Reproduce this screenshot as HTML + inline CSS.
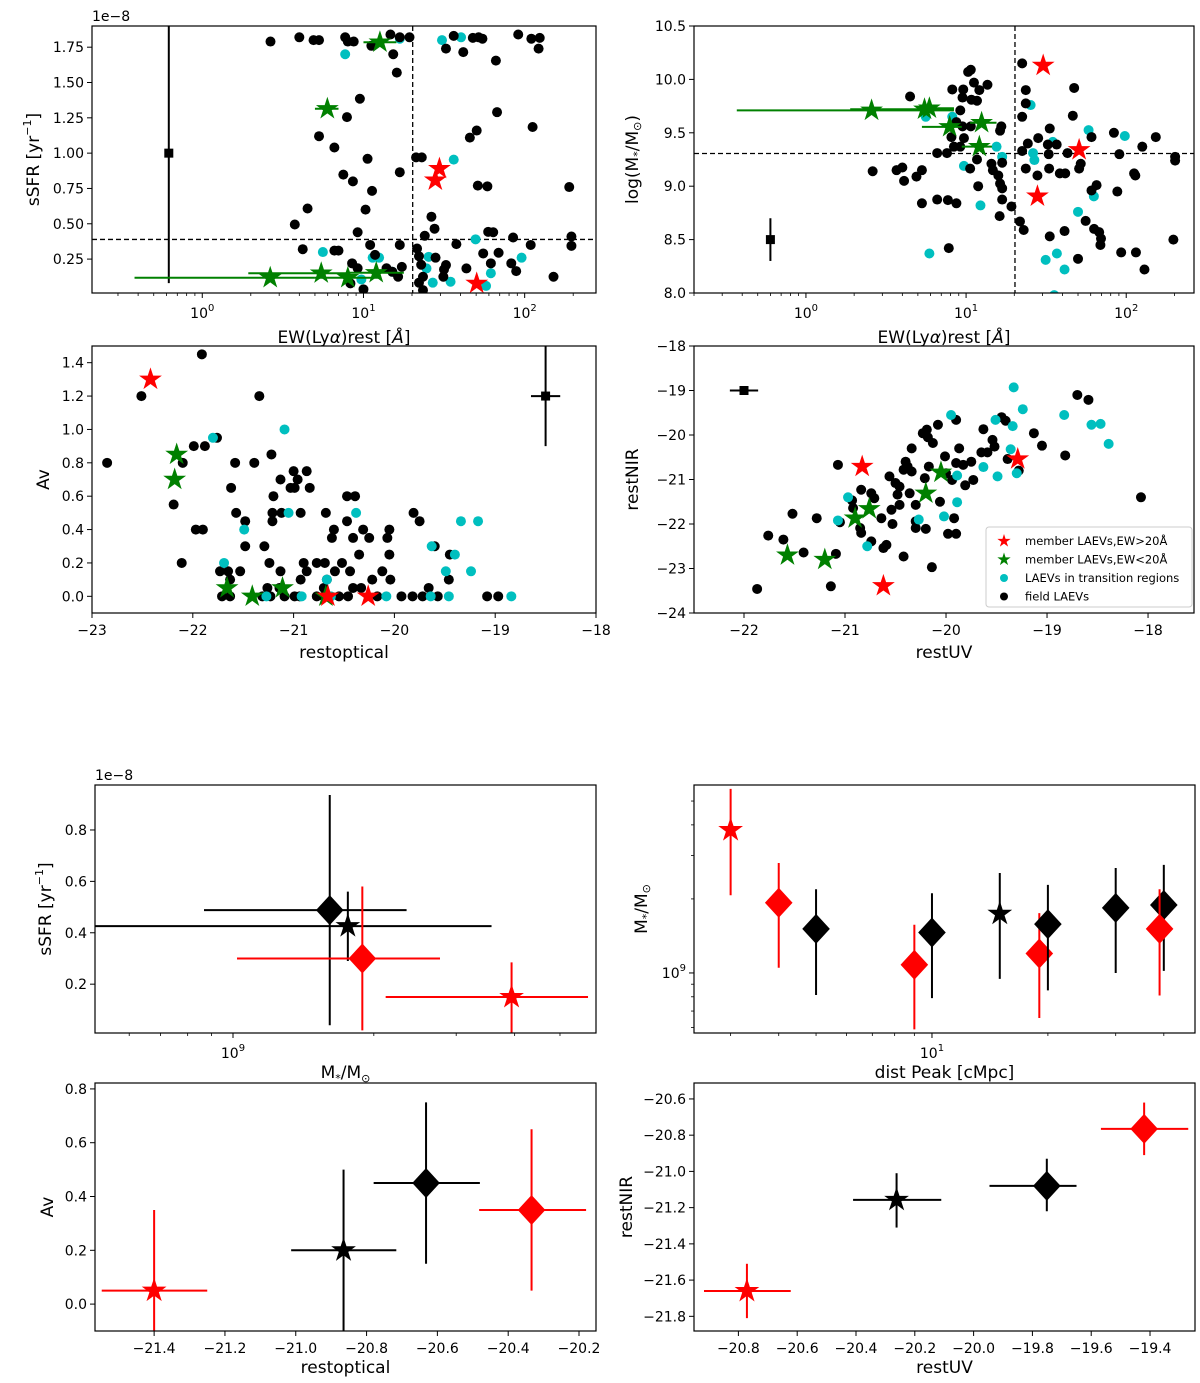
<!DOCTYPE html>
<html><head><meta charset="utf-8"><style>
html,body{margin:0;padding:0;background:#fff;}
svg{display:block;font-family:"DejaVu Sans","Liberation Sans",sans-serif;}
</style></head><body>
<svg id="chart" width="1200" height="1383" viewBox="0 0 1200 1383" xmlns="http://www.w3.org/2000/svg"></svg>
<script>
// ---------- DATA ----------
const p1Black=[[2.65,1.79],[4.0,1.82],[4.9,1.80],[5.3,1.80],[7.7,1.82],[8.0,1.79],[8.7,1.79],[11.2,1.76],[14.7,1.84],[15.3,1.70],[19.3,1.82],[16.8,1.82],[16.1,1.57],[9.5,1.385],[7.9,1.255],[5.3,1.12],[6.6,1.04],[10.6,0.96],[16.8,0.865],[7.5,0.848],[8.6,0.80],[11.3,0.733],[4.5,0.608],[10.3,0.60],[3.75,0.495],[9.2,0.44],[4.2,0.32],[6.6,0.31],[7.0,0.31],[11.0,0.35],[16.8,0.35],[8.5,0.22],[11.8,0.28],[9.2,0.185],[13.9,0.185],[17.3,0.195],[16.4,0.125],[10,0.036],[8.3,0.078],[15.1,0.16],[32.5,1.74],[36.3,1.83],[41.6,1.715],[47.7,1.816],[51.8,1.82],[54.7,1.81],[66.3,1.655],[91.2,1.84],[110,1.81],[124,1.816],[122,1.74],[67.4,1.29],[50.4,1.16],[45.7,1.11],[112,1.185],[21.2,0.97],[23.0,0.97],[51.2,0.77],[58.7,0.765],[189,0.76],[26.4,0.55],[27.6,0.465],[24.0,0.415],[59.4,0.443],[63.8,0.44],[84.8,0.403],[195,0.41],[195,0.344],[109,0.35],[37.7,0.356],[21.5,0.325],[22.1,0.27],[28.0,0.26],[22.8,0.21],[32.5,0.208],[31.6,0.177],[43.5,0.184],[55.3,0.29],[68.9,0.295],[61.7,0.22],[82.6,0.22],[88.6,0.165],[151,0.125],[31.3,0.125],[23.4,0.125],[22.1,0.083],[23.4,0.03]];
const p1Cyan=[[7.7,1.70],[16.8,1.81],[30.7,1.80],[40.3,1.82],[36.3,0.954],[5.6,0.30],[11.4,0.26],[12.5,0.26],[25.4,0.266],[24.6,0.184],[26.9,0.083],[34.7,0.09],[49.6,0.39],[95.7,0.26],[61.7,0.15],[57.6,0.06],[15.1,0.16],[9.7,0.106]];
const p1Green=[[12.65,1.785],[5.97,1.314],[2.64,0.118],[5.47,0.15],[8.0,0.118],[12.0,0.153]];
const p1GreenErr=[[10,16],[5.0,7.0],[0.38,5.0],[1.93,7.8],[5.0,12.8],[7.8,17.8]];
const p1Red=[[29.6,0.89],[27.9,0.808],[50.4,0.078]];
const p1Ref=[0.62,1.0,0.08,1.95];
const p1Cuts=[20.2,0.389];

const p2Black=[[2.61,9.14],[3.68,9.15],[4.0,9.175],[4.1,9.05],[4.47,9.84],[4.9,9.09],[5.3,9.15],[5.3,8.84],[6.6,9.31],[6.6,8.875],[7.6,9.31],[7.7,8.87],[8.7,8.84],[7.8,8.42],[8.2,9.906],[9.6,9.906],[9.5,9.83],[9.2,9.71],[8.7,9.6],[10.3,10.07],[10.7,10.09],[11.2,9.97],[10.8,9.81],[11.7,9.80],[12.1,9.90],[13.6,9.95],[8.1,9.46],[9.5,9.56],[9.7,9.45],[8.4,9.37],[9.2,9.37],[10.7,9.56],[10.6,9.165],[11.7,9.25],[11.9,9.0],[14.4,9.21],[14.7,9.15],[15.9,9.10],[16.8,9.22],[16.3,9.025],[16.8,8.98],[16.8,8.875],[16.2,8.72],[19.2,8.81],[16.3,9.52],[16.6,9.56],[22.4,10.15],[23.6,9.9],[23.6,9.775],[22.4,9.65],[22.4,9.33],[23.6,9.165],[24.3,9.4],[21.7,8.67],[22.9,8.59],[27.9,9.10],[28.2,9.45],[33.3,9.54],[32.4,9.39],[32.8,9.30],[36.8,9.39],[33.0,9.165],[38.5,9.12],[41.6,9.12],[33.3,8.53],[41.2,8.58],[43.0,9.31],[47.3,9.92],[46.4,9.66],[50.8,9.165],[52,9.21],[50,8.32],[55.8,8.675],[60.7,9.46],[60.7,8.96],[65.3,9.01],[63,8.60],[67.8,8.57],[69.6,8.51],[69,8.45],[83.8,9.50],[90.6,9.30],[88,8.95],[93,8.38],[112,9.12],[114,9.10],[126,9.37],[115,8.38],[130,8.22],[153,9.46],[202,9.275],[202,9.24],[197,8.5]];
const p2Cyan=[[25.3,9.76],[8.2,9.65],[5.6,9.65],[5.9,8.37],[9.7,9.19],[12.3,8.82],[15.5,9.37],[16.8,9.275],[26.2,9.31],[26.7,9.245],[34.8,9.415],[31.4,8.31],[36.9,8.37],[41.2,8.22],[50,8.76],[58.2,9.525],[62.8,8.905],[98,9.47],[35.5,7.98]];
const p2Green=[[2.57,9.71],[5.5,9.72],[5.9,9.73],[7.9,9.556],[12.5,9.594],[12.1,9.37]];
const p2GreenErr=[[0.37,8.4],[1.89,8.4],[5.0,8.4],[5.3,9.4],[10.6,15.5],[9.4,14.5]];
const p2Red=[[30.3,10.13],[50.8,9.34],[27.9,8.906]];
const p2Ref=[0.6,8.5,8.3,8.7];
const p2Cuts=[20.2,9.306];

const p3Black=[[-22.85,0.8],[-22.51,1.2],[-21.91,1.45],[-22.1,0.8],[-22.19,0.55],[-22.11,0.2],[-21.99,0.9],[-21.88,0.9],[-21.97,0.4],[-21.9,0.4],[-21.76,0.95],[-21.34,1.2],[-21.58,0.8],[-21.39,0.8],[-21.62,0.65],[-21.57,0.5],[-21.48,0.45],[-21.48,0.3],[-21.53,0.15],[-21.73,0.15],[-21.65,0.15],[-21.63,0.1],[-21.71,0],[-21.63,0],[-21.29,0.3],[-21.22,0.85],[-21.2,0.6],[-21.21,0.5],[-21.21,0.45],[-21.13,0.7],[-21.12,0.5],[-21.24,0.2],[-21.13,0.15],[-21.26,0.05],[-21.31,0],[-21.23,0],[-21.14,0.05],[-21.09,0],[-21.0,0.75],[-20.96,0.7],[-21.03,0.65],[-20.99,0.65],[-20.87,0.75],[-20.84,0.65],[-20.93,0.5],[-20.9,0.2],[-20.87,0.15],[-20.93,0.1],[-20.99,0],[-20.94,0],[-20.68,0.5],[-20.77,0.2],[-20.69,0.2],[-20.6,0.4],[-20.62,0.35],[-20.52,0.2],[-20.59,0.15],[-20.67,0.1],[-20.7,0.05],[-20.77,0],[-20.7,0],[-20.55,0],[-20.46,0],[-20.47,0.6],[-20.39,0.6],[-20.47,0.45],[-20.41,0.35],[-20.44,0.15],[-20.41,0.05],[-20.35,0.25],[-20.31,0.4],[-20.25,0.35],[-20.33,0.05],[-20.22,0.1],[-20.17,0],[-20.07,0.35],[-20.05,0.4],[-20.05,0.25],[-20.12,0.15],[-20.04,0.1],[-19.93,0],[-19.81,0.5],[-19.75,0.45],[-19.82,0],[-19.72,0],[-19.66,0.05],[-19.6,0.3],[-19.57,0],[-19.45,0.25],[-19.46,0.1],[-19.08,0],[-18.97,0]];
const p3Cyan=[[-21.8,0.95],[-21.09,1.0],[-21.05,0.5],[-20.38,0.5],[-21.49,0.4],[-21.69,0.2],[-21.27,0],[-20.92,0],[-20.63,0],[-20.08,0],[-19.64,0],[-19.46,0],[-18.84,0],[-19.63,0.3],[-19.4,0.25],[-19.49,0.15],[-19.24,0.15],[-19.34,0.45],[-19.17,0.45],[-20.67,0.1]];
const p3Green=[[-22.16,0.85],[-22.18,0.7],[-21.66,0.05],[-21.41,0],[-21.11,0.05],[-20.68,0]];
const p3Red=[[-22.42,1.3],[-20.66,0],[-20.26,0]];
const p3Ref=[-18.5,1.2,0.145,0.9,1.6];

const p4Black=[[-21.87,-23.46],[-21.76,-22.26],[-21.61,-22.35],[-21.52,-21.77],[-21.41,-22.64],[-21.28,-21.87],[-21.14,-23.4],[-21.09,-22.67],[-21.07,-20.67],[-21.05,-21.96],[-20.93,-21.47],[-20.92,-21.64],[-20.84,-21.23],[-20.85,-22.09],[-20.84,-22.2],[-20.74,-21.31],[-20.71,-21.42],[-20.74,-22.39],[-20.64,-21.87],[-20.62,-22.54],[-20.59,-22.47],[-20.54,-21.68],[-20.53,-22.0],[-20.56,-20.93],[-20.5,-21.08],[-20.46,-21.16],[-20.48,-21.34],[-20.46,-21.57],[-20.42,-22.73],[-20.42,-20.78],[-20.4,-20.6],[-20.38,-20.71],[-20.36,-21.31],[-20.34,-20.3],[-20.34,-20.82],[-20.3,-21.94],[-20.3,-22.09],[-20.3,-21.57],[-20.23,-19.96],[-20.19,-19.88],[-20.18,-20.05],[-20.13,-20.18],[-20.17,-20.71],[-20.21,-20.97],[-20.2,-22.11],[-20.14,-22.97],[-20.08,-19.77],[-20.06,-21.5],[-20.01,-20.48],[-20.0,-20.86],[-19.98,-22.22],[-19.92,-21.87],[-19.9,-22.22],[-19.9,-19.66],[-19.94,-21.01],[-19.9,-20.63],[-19.87,-20.3],[-19.83,-20.67],[-19.81,-21.13],[-19.75,-20.6],[-19.73,-21.01],[-19.63,-19.87],[-19.65,-20.39],[-19.59,-20.39],[-19.54,-20.11],[-19.52,-20.26],[-19.45,-19.6],[-19.41,-19.68],[-19.39,-20.54],[-19.28,-20.8],[-19.13,-19.96],[-19.05,-20.24],[-18.82,-20.46],[-18.7,-19.1],[-18.59,-19.21],[-18.07,-21.4]];
const p4Cyan=[[-20.97,-21.4],[-21.07,-21.92],[-20.78,-22.5],[-20.27,-21.9],[-19.95,-19.55],[-20.02,-21.83],[-19.89,-21.51],[-19.89,-20.91],[-19.63,-20.72],[-19.49,-20.93],[-19.51,-19.66],[-19.33,-18.93],[-19.34,-19.8],[-19.36,-20.32],[-19.3,-20.86],[-19.24,-19.42],[-18.83,-19.55],[-18.56,-19.77],[-18.47,-19.75],[-18.39,-20.2]];
const p4Green=[[-21.57,-22.7],[-21.2,-22.8],[-20.9,-21.87],[-20.76,-21.66],[-20.2,-21.31],[-20.05,-20.84]];
const p4Red=[[-20.83,-20.71],[-20.62,-23.39],[-19.29,-20.54]];
const p4Ref=[-22.0,-19.0,0.14,0.08];
const legendLabels=["member LAEVs,EW>20Å","member LAEVs,EW<20Å","LAEVs in transition regions","field LAEVs"];

// bottom panels: [x, y, xlo, xhi, ylo, yhi, marker, color]
const p5Mass=[1.61e9,1.76e9,1.89e9,3.94e9];
const p5SSFR=[0.488,0.426,0.30,0.15];
const p5MassErr=[[8.67e8,2.35e9],[4.9e8,3.57e9],[1.02e9,2.77e9],[2.12e9,5.74e9]];
const p5SSFRErr=[[0.04,0.936],[0.29,0.56],[0.02,0.58],[0.01,0.285]];
const p5Marker=["D","*","D","*"];
const p5Color=["#000","#000","#f00","#f00"];

const p6Dist=[3.0,4.0,5.0,9.0,10,15.0,19.0,20,30,40,39];
const p6Mass=[3.81e9,1.93e9,1.51e9,1.08e9,1.46e9,1.74e9,1.2e9,1.58e9,1.84e9,1.89e9,1.51e9];
const p6MassErr=[[2.07e9,5.6e9],[1.05e9,2.8e9],[8.14e8,2.19e9],[5.9e8,1.57e9],[7.9e8,2.11e9],[9.46e8,2.55e9],[6.56e8,1.75e9],[8.5e8,2.28e9],[1.0e9,2.67e9],[1.02e9,2.75e9],[8.1e8,2.19e9]];
const p6Marker=["*","D","D","D","D","*","D","D","D","D","D"];
const p6Color=["#f00","#f00","#000","#f00","#000","#000","#f00","#000","#000","#000","#f00"];

const p7Opt=[-21.4,-20.865,-20.632,-20.334];
const p7Av=[0.05,0.2,0.45,0.35];
const p7OptErr=[[-21.548,-21.25],[-21.013,-20.716],[-20.78,-20.48],[-20.482,-20.18]];
const p7AvErr=[[-0.15,0.35],[-0.15,0.5],[0.15,0.75],[0.05,0.65]];
const p7Marker=["*","*","D","D"];
const p7Color=["#f00","#000","#000","#f00"];

const p8UV=[-20.771,-20.262,-19.751,-19.42];
const p8NIR=[-21.66,-21.157,-21.08,-20.765];
const p8UVErr=[[-20.917,-20.622],[-20.41,-20.11],[-19.946,-19.65],[-19.567,-19.27]];
const p8NIRErr=[[-21.81,-21.51],[-21.31,-21.01],[-21.22,-20.93],[-20.91,-20.62]];
const p8Marker=["*","*","D","D"];
const p8Color=["#f00","#000","#000","#f00"];

// ---------- RENDER ----------
const NS='http://www.w3.org/2000/svg';
const svg=document.getElementById('chart');
function mk(tag,attrs,parent){const e=document.createElementNS(NS,tag);for(const k in attrs)e.setAttribute(k,attrs[k]);(parent||svg).appendChild(e);return e;}
function scale(type,d0,d1,r0,r1){if(type==='log'){const a=Math.log10(d0),b=Math.log10(d1);return v=>r0+(Math.log10(v)-a)/(b-a)*(r1-r0);}return v=>r0+(v-d0)/(d1-d0)*(r1-r0);}
function fmt(v,dec){return v.toFixed(dec).replace('-','\u2212');}
let clipId=0;
function setupPanel(c){
  const [L,T,R,B]=c.box;
  const sx=scale(c.xtype,c.xd[0],c.xd[1],L,R), sy=scale(c.ytype,c.yd[0],c.yd[1],B,T);
  const g=mk('g',{});
  
  
  clipId++;
  const cp=mk('clipPath',{id:'clip'+clipId},g);
  mk('rect',{x:L,y:T,width:R-L,height:B-T},cp);
  const plot=mk('g',{'clip-path':'url(#clip'+clipId+')'},g);
  
  
  const axG=mk('g',{},g);
  
  
  // x ticks
  c.xticks.forEach((v,i)=>{const x=sx(v);
    mk('line',{x1:x,x2:x,y1:B,y2:B+5,stroke:'#000','stroke-width':1},axG);
    const t=mk('text',{x:x,y:B+(c.xtype==='log'?25:22),'text-anchor':'middle','font-size':14},axG);
    
    
    if(c.xtype==='log'){t.textContent='10';const s=mk('tspan',{'font-size':10,dy:-7},t);s.textContent=c.xlabels[i];}
    else t.textContent=c.xlabels[i];
  });
  (c.xminor||[]).forEach(v=>{const x=sx(v);mk('line',{x1:x,x2:x,y1:B,y2:B+3,stroke:'#000','stroke-width':0.8},axG);});
  c.yticks.forEach((v,i)=>{const y=sy(v);
    mk('line',{x1:L-5,x2:L,y1:y,y2:y,stroke:'#000','stroke-width':1},axG);
    const t=mk('text',{x:L-8,y:y+5,'text-anchor':'end','font-size':14},axG);
    
    
    if(c.ytype==='log'){t.textContent='10';const s=mk('tspan',{'font-size':10,dy:-7},t);s.textContent=c.ylabels[i];}
    else t.textContent=c.ylabels[i];
  });
  (c.yminor||[]).forEach(v=>{const y=sy(v);mk('line',{x1:L-3,x2:L,y1:y,y2:y,stroke:'#000','stroke-width':0.8},axG);});
  const xl=mk('text',{x:(L+R)/2,y:c.xlabelY,'text-anchor':'middle','font-size':17},axG);
  
  
  xl.innerHTML=c.xlabel;
  const yl=mk('text',{x:c.ylabelX,y:(T+B)/2,'text-anchor':'middle','font-size':17,'dominant-baseline':'central',transform:`rotate(-90 ${c.ylabelX} ${(T+B)/2})`},axG);
  
  
  yl.innerHTML=c.ylabel;
  if(c.offset){const o=mk('text',{x:L,y:T-5,'font-size':14},axG);
    
    
    o.textContent='1e\u22128';}
  const frame=mk('rect',{x:L,y:T,width:R-L,height:B-T,fill:'none',stroke:'#000','stroke-width':1.2},g);
  
  
  return {sx,sy,plot};
}
function starPath(cx,cy,R){let d='';for(let i=0;i<10;i++){const r=i%2?R*0.382:R;const a=-Math.PI/2+i*Math.PI/5;d+=(i?'L':'M')+(cx+r*Math.cos(a)).toFixed(2)+','+(cy+r*Math.sin(a)).toFixed(2);}return d+'Z';}
function drawMarker(parent,m,x,y,color,size){
  let e;
  if(m==='*') e=mk('path',{d:starPath(x,y,size),fill:color},parent);
  else if(m==='D') e=mk('path',{d:`M${x},${y-size}L${x+size*0.92},${y}L${x},${y+size}L${x-size*0.92},${y}Z`,fill:color},parent);
  else if(m==='s') e=mk('rect',{x:x-4.5,y:y-4.5,width:9,height:9,fill:color},parent);
  else e=mk('circle',{cx:x,cy:y,r:size,fill:color},parent);
  return e;
}
function line(parent,x1,y1,x2,y2,color,w,dash){const l=mk('line',{x1,y1,x2,y2,stroke:color,'stroke-width':w},parent);if(dash)l.setAttribute('stroke-dasharray',dash);return l;}
function minorLog(d0,d1){const out=[];for(let e=Math.floor(Math.log10(d0));e<=Math.ceil(Math.log10(d1));e++)for(let k=2;k<=9;k++){const v=k*Math.pow(10,e);if(v>=d0&&v<=d1)out.push(v);}return out;}
function range(a,b,s){const o=[];for(let v=a;v<=b+1e-9;v+=s)o.push(Math.round(v*1000)/1000);return o;}

const CY='#00bfbf',GR='#008000',RD='#ff0000';
function scatterSet(P,pts,color,name,kind,size){pts.forEach(p=>{const e=drawMarker(P.plot,kind,P.sx(p[0]),P.sy(p[1]),color,size);
  
  });}

// Panel 1
const ewLabel='EW(Ly<tspan font-style="italic">α</tspan>)rest [<tspan font-style="italic">Å</tspan>]';
let P=setupPanel({name:'panel-ssfr-vs-ew',box:[92,26,596,293],xtype:'log',xd:[0.207,277],ytype:'lin',yd:[0.01,1.9],
 xticks:[1,10,100],xlabels:['0','1','2'],xminor:minorLog(0.207,277),yticks:range(0.25,1.75,0.25),ylabels:range(0.25,1.75,0.25).map(v=>fmt(v,2)),
 xlabel:ewLabel,ylabel:'sSFR [yr<tspan font-size="11" dy="-7">−1</tspan><tspan dy="7">]</tspan>',xlabelY:343,ylabelX:34,offset:true});
line(P.plot,P.sx(p1Cuts[0]),26,P.sx(p1Cuts[0]),293,'#000',1.3,'5,3');
line(P.plot,92,P.sy(p1Cuts[1]),596,P.sy(p1Cuts[1]),'#000',1.3,'5,3');
line(P.plot,P.sx(p1Ref[0]),P.sy(p1Ref[2]),P.sx(p1Ref[0]),P.sy(p1Ref[3]),'#000',2);
scatterSet(P,[[p1Ref[0],p1Ref[1]]],'#000','reference-errorbar','s',5);
scatterSet(P,p1Cyan,CY,'transition-laev-point','o',5);
scatterSet(P,p1Black,'#000','field-laev-point','o',5);
p1Green.forEach((p,i)=>line(P.plot,P.sx(p1GreenErr[i][0]),P.sy(p[1]),P.sx(p1GreenErr[i][1]),P.sy(p[1]),GR,2));
scatterSet(P,p1Green,GR,'member-laev-lowew-star','*',12);
scatterSet(P,p1Red,RD,'member-laev-highew-star','*',12);

// Panel 2
P=setupPanel({name:'panel-mass-vs-ew',box:[694,26,1194,293],xtype:'log',xd:[0.2,265],ytype:'lin',yd:[8,10.5],
 xticks:[1,10,100],xlabels:['0','1','2'],xminor:minorLog(0.2,265),yticks:range(8,10.5,0.5),ylabels:range(8,10.5,0.5).map(v=>fmt(v,1)),
 xlabel:ewLabel,ylabel:'log(M<tspan font-size="11" dy="4">*</tspan><tspan dy="-4">/M</tspan><tspan font-size="11" dy="4">⊙</tspan><tspan dy="-4">)</tspan>',xlabelY:343,ylabelX:633});
line(P.plot,P.sx(p2Cuts[0]),26,P.sx(p2Cuts[0]),293,'#000',1.3,'5,3');
line(P.plot,694,P.sy(p2Cuts[1]),1194,P.sy(p2Cuts[1]),'#000',1.3,'5,3');
line(P.plot,P.sx(p2Ref[0]),P.sy(p2Ref[2]),P.sx(p2Ref[0]),P.sy(p2Ref[3]),'#000',2);
scatterSet(P,[[p2Ref[0],p2Ref[1]]],'#000','reference-errorbar','s',5);
scatterSet(P,p2Cyan,CY,'transition-laev-point','o',5);
scatterSet(P,p2Black,'#000','field-laev-point','o',5);
p2Green.forEach((p,i)=>line(P.plot,P.sx(p2GreenErr[i][0]),P.sy(p[1]),P.sx(p2GreenErr[i][1]),P.sy(p[1]),GR,2));
scatterSet(P,p2Green,GR,'member-laev-lowew-star','*',12);
scatterSet(P,p2Red,RD,'member-laev-highew-star','*',12);

// Panel 3
P=setupPanel({name:'panel-av-vs-restoptical',box:[92,346,596,613],xtype:'lin',xd:[-23,-18],ytype:'lin',yd:[-0.1,1.5],
 xticks:range(-23,-18,1),xlabels:range(-23,-18,1).map(v=>fmt(v,0)),yticks:range(0,1.4,0.2),ylabels:range(0,1.4,0.2).map(v=>fmt(v,1)),
 xlabel:'restoptical',ylabel:'Av',xlabelY:658,ylabelX:44});
line(P.plot,P.sx(p3Ref[0]),P.sy(p3Ref[3]),P.sx(p3Ref[0]),P.sy(p3Ref[4]),'#000',2);
line(P.plot,P.sx(p3Ref[0]-p3Ref[2]),P.sy(p3Ref[1]),P.sx(p3Ref[0]+p3Ref[2]),P.sy(p3Ref[1]),'#000',2);
scatterSet(P,[[p3Ref[0],p3Ref[1]]],'#000','reference-errorbar','s',5);
scatterSet(P,p3Black,'#000','field-laev-point','o',5);
scatterSet(P,p3Cyan,CY,'transition-laev-point','o',5);
scatterSet(P,p3Green,GR,'member-laev-lowew-star','*',12);
scatterSet(P,p3Red,RD,'member-laev-highew-star','*',12);

// Panel 4
P=setupPanel({name:'panel-restnir-vs-restuv',box:[694,346,1194,613],xtype:'lin',xd:[-22.495,-17.545],ytype:'lin',yd:[-24,-18],
 xticks:range(-22,-18,1),xlabels:range(-22,-18,1).map(v=>fmt(v,0)),yticks:range(-24,-18,1),ylabels:range(-24,-18,1).map(v=>fmt(v,0)),
 xlabel:'restUV',ylabel:'restNIR',xlabelY:658,ylabelX:633});
line(P.plot,P.sx(p4Ref[0]-p4Ref[2]),P.sy(p4Ref[1]),P.sx(p4Ref[0]+p4Ref[2]),P.sy(p4Ref[1]),'#000',2);
line(P.plot,P.sx(p4Ref[0]),P.sy(p4Ref[1]-p4Ref[3]),P.sx(p4Ref[0]),P.sy(p4Ref[1]+p4Ref[3]),'#000',2);
scatterSet(P,[[p4Ref[0],p4Ref[1]]],'#000','reference-errorbar','s',5);
scatterSet(P,p4Black,'#000','field-laev-point','o',5);
scatterSet(P,p4Cyan,CY,'transition-laev-point','o',5);
scatterSet(P,p4Green,GR,'member-laev-lowew-star','*',12);
scatterSet(P,p4Red,RD,'member-laev-highew-star','*',12);
// legend
const lg=mk('g',{});


mk('rect',{x:986,y:527,width:206,height:80,rx:3,fill:'#fff','fill-opacity':0.85,stroke:'#ccc','stroke-width':1},lg);
const lgColors=[RD,GR,CY,'#000'],lgKinds=['*','*','o','o'],lgSizes=[7,7,4,4];
legendLabels.forEach((lab,i)=>{const y=541+i*18.5;
  const m=drawMarker(lg,lgKinds[i],1004,y,lgColors[i],lgSizes[i]);
  
  
  const t=mk('text',{x:1025,y:y+4,'font-size':11.5},lg);
  
  
  t.textContent=lab;});

// generic errorbar-point drawing
function errPoints(P,xs,ys,xe,ye,marks,cols,name){
  xs.forEach((x,i)=>{const c=cols[i];
    if(xe) line(P.plot,P.sx(xe[i][0]),P.sy(ys[i]),P.sx(xe[i][1]),P.sy(ys[i]),c,2);
    line(P.plot,P.sx(x),P.sy(ye[i][0]),P.sx(x),P.sy(ye[i][1]),c,2);
    const e=drawMarker(P.plot,marks[i],P.sx(x),P.sy(ys[i]),c,marks[i]==='*'?13:15);
    
    
  });
}
const massLabel='M<tspan font-size="11" dy="4">*</tspan><tspan dy="-4">/M</tspan><tspan font-size="11" dy="4">⊙</tspan>';
// Panel 5
P=setupPanel({name:'panel-binned-ssfr-vs-mass',box:[95,785,596,1033],xtype:'log',xd:[5.07e8,5.97e9],ytype:'lin',yd:[0.01,0.975],
 xticks:[1e9],xlabels:['9'],xminor:minorLog(5.07e8,5.97e9),yticks:range(0.2,0.8,0.2),ylabels:range(0.2,0.8,0.2).map(v=>fmt(v,1)),
 xlabel:massLabel,ylabel:'sSFR [yr<tspan font-size="11" dy="-7">−1</tspan><tspan dy="7">]</tspan>',xlabelY:1078,ylabelX:46,offset:true});
errPoints(P,p5Mass,p5SSFR,p5MassErr,p5SSFRErr,p5Marker,p5Color,'binned-point');
// Panel 6
P=setupPanel({name:'panel-binned-mass-vs-dist',box:[694,785,1195,1033],xtype:'log',xd:[2.41,48.2],ytype:'log',yd:[5.7e8,5.81e9],
 xticks:[10],xlabels:['1'],xminor:minorLog(2.41,48.2),yticks:[1e9],ylabels:['9'],yminor:minorLog(5.7e8,5.81e9),
 xlabel:'dist Peak [cMpc]',ylabel:massLabel,xlabelY:1078,ylabelX:642});
errPoints(P,p6Dist,p6Mass,null,p6MassErr,p6Marker,p6Color,'binned-point');
// Panel 7
P=setupPanel({name:'panel-binned-av-vs-restoptical',box:[95,1083,596,1331],xtype:'lin',xd:[-21.567,-20.152],ytype:'lin',yd:[-0.1,0.822],
 xticks:range(-21.4,-20.2,0.2),xlabels:range(-21.4,-20.2,0.2).map(v=>fmt(v,1)),yticks:range(0,0.8,0.2),ylabels:range(0,0.8,0.2).map(v=>fmt(v,1)),
 xlabel:'restoptical',ylabel:'Av',xlabelY:1373,ylabelX:48});
errPoints(P,p7Opt,p7Av,p7OptErr,p7AvErr,p7Marker,p7Color,'binned-point');
// Panel 8
P=setupPanel({name:'panel-binned-restnir-vs-restuv',box:[694,1083,1195,1331],xtype:'lin',xd:[-20.951,-19.247],ytype:'lin',yd:[-21.881,-20.512],
 xticks:range(-20.8,-19.4,0.2),xlabels:range(-20.8,-19.4,0.2).map(v=>fmt(v,1)),yticks:range(-21.8,-20.6,0.2),ylabels:range(-21.8,-20.6,0.2).map(v=>fmt(v,1)),
 xlabel:'restUV',ylabel:'restNIR',xlabelY:1373,ylabelX:627});
errPoints(P,p8UV,p8NIR,p8UVErr,p8NIRErr,p8Marker,p8Color,'binned-point');
</script>
</body></html>
